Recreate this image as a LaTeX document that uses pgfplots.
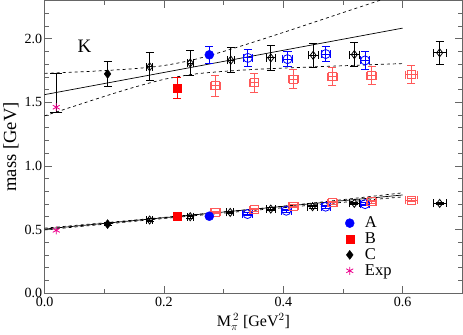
\documentclass[border=0pt]{standalone}
\usepackage{pgfplots}
\pgfplotsset{compat=1.18}
\usepackage{fontspec}
\setmainfont{Liberation Serif}
\begin{document}
\begin{tikzpicture}
\begin{axis}[
  scale only axis,
  width=417pt, height=292pt,
  xmin=0, xmax=0.7, ymin=0, ymax=2.3,
  xtick={0,0.2,0.4,0.6}, minor xtick={0.1,0.3,0.5,0.7},
  ytick={0,0.5,1.0,1.5,2.0}, minor ytick={0.1,0.2,0.3,0.4,0.6,0.7,0.8,0.9,1.1,1.2,1.3,1.4,1.6,1.7,1.8,1.9,2.1,2.2},
  tick align=inside,
  major tick length=7pt, minor tick length=4pt,
  axis line style={gray!80!black, line width=1.3pt},
  every tick/.style={gray!80!black, line width=0.9pt},
  /pgf/number format/assume math mode=true,
  /pgf/number format/fixed, /pgf/number format/fixed zerofill, /pgf/number format/precision=1,
  tick label style={font=\fontsize{14}{16}\selectfont, black},
  yticklabel style={xshift=1pt},
  xlabel={M$_\pi^{\,2}$ [GeV$^2$]},
  ylabel={mass [GeV]},
  xlabel style={font=\fontsize{16}{18}\selectfont},
  ylabel style={font=\fontsize{18.5}{20}\selectfont, yshift=-1pt},
  legend cell align=left,
  legend style={draw=none, fill=none, at={(0.712,0.275)}, anchor=north west,
    font=\fontsize{16.5}{17}\selectfont, row sep=-0.5pt},
  legend image code/.code={\path (-0.1cm,0) (0.45cm,0); \draw[#1] plot coordinates {(0cm,0cm)};},
  error bars/error bar style={line width=0.8pt},
  error bars/error mark options={rotate=90, mark size=4pt, line width=0.8pt},
]
\addlegendimage{only marks, mark=*, blue, mark size=4.5pt}
\addlegendentry{A}
\addlegendimage{only marks, mark=square*, red, mark size=4pt}
\addlegendentry{B}
\addlegendimage{only marks, mark=diamond*, black, mark size=4.5pt}
\addlegendentry{C}
\addlegendimage{only marks, mark=asterisk, magenta, mark size=4pt, line width=0.8pt}
\addlegendentry{Exp}

% fit lines, upper
\addplot[black, line width=0.7pt, forget plot] coordinates {(0,1.561) (0.6,2.084)};
\addplot[black, dashed, line width=0.7pt, smooth, forget plot] coordinates {
(0,1.728) (0.05,1.738) (0.1,1.750) (0.15,1.765) (0.2,1.790) (0.25,1.836) (0.3,1.901) (0.35,1.974) (0.4,2.050) (0.45,2.128) (0.5,2.206) (0.55,2.284) (0.6,2.363)};
\addplot[black, dashed, line width=0.7pt, smooth, forget plot] coordinates {
(0,1.394) (0.05,1.471) (0.1,1.547) (0.15,1.619) (0.2,1.681) (0.25,1.722) (0.3,1.744) (0.35,1.759) (0.4,1.770) (0.45,1.779) (0.5,1.788) (0.55,1.797) (0.6,1.805)};
% fit error at physical point
\addplot[black, draw=none, mark=none, forget plot, error bars/.cd, y dir=both, y explicit,
  error mark options={rotate=90, mark size=6pt, line width=0.8pt}] coordinates {(0.0195,1.578) +- (0,0.153)};

% fit lines, lower
\addplot[black, line width=0.7pt, forget plot] coordinates {(0,0.504) (0.6,0.772)};
\addplot[black, dashed, line width=0.7pt, smooth, forget plot] coordinates {(0,0.511) (0.2,0.596) (0.4,0.684) (0.6,0.789)};
\addplot[black, dashed, line width=0.7pt, smooth, forget plot] coordinates {(0,0.497) (0.2,0.587) (0.4,0.672) (0.6,0.757)};

% A open
\addplot[blue, only marks, mark=o, mark size=4.5pt, line width=0.8pt, forget plot,
  error bars/.cd, x dir=both, x explicit, y dir=both, y explicit] coordinates {
(0.3405,1.85) +- (0.008,0.065)
(0.407,1.84) +- (0.008,0.06)
(0.471,1.88) +- (0.008,0.06)
(0.537,1.83) +- (0.008,0.068)
(0.340,0.622) +- (0.008,0.01)
(0.405,0.648) +- (0.008,0.01)
(0.471,0.680) +- (0.008,0.01)
(0.537,0.700) +- (0.008,0.01)};
% B open
\addplot[red!65, only marks, mark=square, mark size=4pt, line width=0.9pt, forget plot,
  error bars/.cd, x dir=both, x explicit, y dir=both, y explicit] coordinates {
(0.286,1.630) +- (0.008,0.08)
(0.351,1.654) +- (0.008,0.075)
(0.417,1.683) +- (0.008,0.073)
(0.482,1.703) +- (0.008,0.07)
(0.548,1.711) +- (0.008,0.073)
(0.614,1.719) +- (0.010,0.072)
(0.286,0.635) +- (0.008,0.01)
(0.351,0.656) +- (0.008,0.01)
(0.417,0.685) +- (0.008,0.01)
(0.482,0.711) +- (0.008,0.01)
(0.548,0.719) +- (0.008,0.01)
(0.614,0.732) +- (0.010,0.01)};
% C open
\addplot[black, only marks, mark=diamond, mark size=4pt, line width=0.8pt, forget plot,
  error bars/.cd, x dir=both, x explicit, y dir=both, y explicit] coordinates {
(0.176,1.780) +- (0.005,0.11)
(0.244,1.810) +- (0.005,0.10)
(0.312,1.832) +- (0.006,0.10)
(0.379,1.850) +- (0.007,0.10)
(0.450,1.870) +- (0.008,0.095)
(0.519,1.876) +- (0.009,0.095)
(0.662,1.890) +- (0.011,0.092)
(0.176,0.575) +- (0.005,0.01)
(0.244,0.601) +- (0.005,0.01)
(0.311,0.635) +- (0.006,0.01)
(0.379,0.661) +- (0.007,0.01)
(0.449,0.680) +- (0.008,0.01)
(0.519,0.706) +- (0.009,0.01)
(0.662,0.706) +- (0.011,0.01)};
% filled points
\addplot[black, only marks, mark=diamond*, mark size=4.5pt, forget plot,
  error bars/.cd, y dir=both, y explicit] coordinates {
(0.1055,1.724) +- (0,0.10)
(0.1055,0.543) +- (0,0.01)};
\addplot[red, only marks, mark=square*, mark size=4pt, forget plot,
  error bars/.cd, y dir=both, y explicit] coordinates {
(0.222,1.614) +- (0,0.08)
(0.222,0.609) +- (0,0.01)};
\addplot[blue, only marks, mark=*, mark size=4.5pt, forget plot,
  error bars/.cd, y dir=both, y explicit] coordinates {
(0.276,1.874) +- (0,0.07)
(0.276,0.605) +- (0,0.01)};
% experiment
\addplot[magenta, only marks, mark=asterisk, mark size=4pt, line width=0.8pt, forget plot] coordinates {
(0.0195,1.462) (0.0195,0.494)};

\node[font=\fontsize{19}{21}\selectfont, anchor=center] at (axis cs:0.067,1.945) {K};
\end{axis}
\end{tikzpicture}
\end{document}
